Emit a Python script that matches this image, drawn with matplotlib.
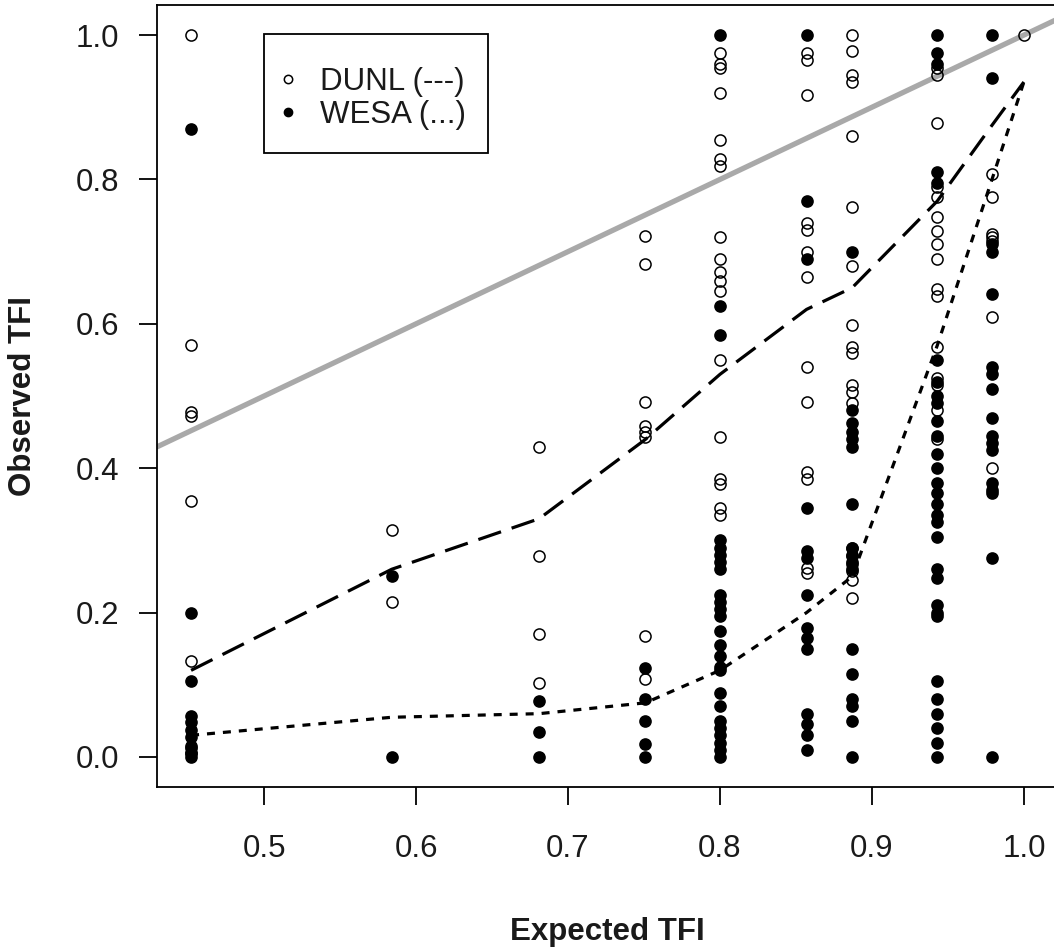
import matplotlib
matplotlib.use("Agg")
import matplotlib.pyplot as plt
from matplotlib.lines import Line2D
from matplotlib.patches import Rectangle
import numpy as np

plt.rcParams['font.family'] = ['Liberation Sans', 'DejaVu Sans']

# expected TFI levels (x) and observed TFI per level
expected = [0.452, 0.584, 0.681, 0.751, 0.80, 0.857, 0.887, 0.943, 0.979, 1.0]

dunl_obs = [
    [1.0, 0.57, 0.478, 0.472, 0.355, 0.133, 0.012, 0.005],
    [0.315, 0.215],
    [0.43, 0.278, 0.17, 0.103],
    [0.722, 0.683, 0.492, 0.458, 0.45, 0.443, 0.168, 0.108],
    [0.975, 0.96, 0.955, 0.92, 0.855, 0.828, 0.818, 0.72, 0.69, 0.672, 0.66,
     0.645, 0.55, 0.443, 0.385, 0.378, 0.345, 0.335],
    [0.975, 0.965, 0.917, 0.74, 0.73, 0.70, 0.665, 0.54, 0.492, 0.395, 0.385,
     0.262, 0.255],
    [1.0, 0.978, 0.945, 0.935, 0.86, 0.762, 0.68, 0.598, 0.568, 0.56, 0.515,
     0.505, 0.49, 0.29, 0.278, 0.268, 0.258, 0.245, 0.22],
    [0.955, 0.945, 0.878, 0.79, 0.775, 0.748, 0.728, 0.71, 0.69, 0.648, 0.638,
     0.568, 0.525, 0.515, 0.48, 0.44],
    [0.808, 0.775, 0.725, 0.72, 0.715, 0.61, 0.40],
    [1.0],
]

wesa_obs = [
    [0.87, 0.2, 0.105, 0.057, 0.048, 0.038, 0.028, 0.015, 0.005, 0.0],
    [0.25, 0.0],
    [0.078, 0.035, 0.0],
    [0.123, 0.08, 0.05, 0.018, 0.0],
    [1.0, 0.625, 0.585, 0.30, 0.29, 0.28, 0.27, 0.26, 0.225, 0.215, 0.205,
     0.195, 0.175, 0.155, 0.14, 0.125, 0.12, 0.088, 0.07, 0.05, 0.04, 0.03,
     0.02, 0.01, 0.0],
    [1.0, 0.77, 0.69, 0.345, 0.285, 0.275, 0.225, 0.178, 0.165, 0.15, 0.06,
     0.045, 0.03, 0.01],
    [0.70, 0.48, 0.462, 0.45, 0.44, 0.43, 0.35, 0.29, 0.28, 0.27, 0.26, 0.15,
     0.115, 0.08, 0.07, 0.05, 0.0],
    [1.0, 0.975, 0.96, 0.81, 0.795, 0.55, 0.52, 0.50, 0.49, 0.465, 0.445,
     0.42, 0.40, 0.38, 0.365, 0.35, 0.335, 0.325, 0.305, 0.26, 0.248, 0.21,
     0.2, 0.195, 0.105, 0.08, 0.06, 0.04, 0.02, 0.0],
    [1.0, 0.94, 0.71, 0.70, 0.642, 0.54, 0.53, 0.51, 0.47, 0.445, 0.435,
     0.425, 0.38, 0.37, 0.365, 0.275, 0.0],
    [],
]

dunl_trend = [0.12, 0.26, 0.33, 0.44, 0.53, 0.62, 0.65, 0.77, 0.875, 0.935]
wesa_trend = [0.03, 0.055, 0.06, 0.075, 0.12, 0.20, 0.25, 0.57, 0.80, 0.935]

ticks_x = [0.5, 0.6, 0.7, 0.8, 0.9, 1.0]
ticks_y = [0.0, 0.2, 0.4, 0.6, 0.8, 1.0]

FS = 22.5
W, H = 1054, 949


def flatten(levels, obs):
    xs = np.concatenate([[x] * len(o) for x, o in zip(levels, obs)])
    ys = np.concatenate([o for o in obs])
    return xs, ys


fig = plt.figure(figsize=(W / 100, H / 100), dpi=100)
ax = fig.add_axes([0.149, 0.1707, 0.854, 0.824])

# 1:1 line
ax.plot([0.3, 1.1], [0.3, 1.1], color='#a9a9a9', lw=3.8, zorder=1)

dx, dy = flatten(expected, dunl_obs)
wx, wy = flatten(expected, wesa_obs)
ax.plot(dx, dy, 'o', ms=8, mfc='none', mec='black', mew=1.1, zorder=3)
ax.plot(wx, wy, 'o', ms=8, mfc='black', mec='black', mew=1.1, zorder=3)

ax.plot(expected, dunl_trend, color='black', lw=2.3, dashes=(7.5, 3.5), zorder=2)
ax.plot(expected, wesa_trend, color='black', lw=2.3, dashes=(2.5, 2.5), zorder=2)

ax.set_xlim(0.4296, 1.0219)
ax.set_ylim(-0.0416, 1.0416)
ax.set_xticks(ticks_x)
ax.set_yticks(ticks_y)
ax.set_xticklabels([f"{t:.1f}" for t in ticks_x])
ax.set_yticklabels([f"{t:.1f}" for t in ticks_y])
ax.tick_params(axis='both', direction='out', length=13, width=1.3,
               labelsize=FS, colors='black', labelcolor='#1a1a1a')
ax.tick_params(axis='x', pad=21)
ax.tick_params(axis='y', pad=14)
for s in ax.spines.values():
    s.set_linewidth(1.3)

ax.set_xlabel('Expected TFI', fontsize=FS, fontweight='bold', labelpad=38,
              color='#1a1a1a')
ax.set_ylabel('Observed TFI', fontsize=FS, fontweight='bold', labelpad=27,
              color='#1a1a1a')

# legend: frameless entries plus a plain box around them
handles = [
    Line2D([], [], ls='none', marker='o', ms=6, mfc='none', mec='black', mew=1.1),
    Line2D([], [], ls='none', marker='o', ms=6, mfc='black', mec='black'),
]
leg = fig.legend(handles, ['DUNL (---)', 'WESA (...)'],
                 loc='upper left', bbox_to_anchor=(279 / W, 1 - 67 / H),
                 fontsize=FS, frameon=False, borderpad=0,
                 handlelength=0.6, handletextpad=0.7, labelspacing=0.1,
                 borderaxespad=0)
for t in leg.get_texts():
    t.set_color('#1a1a1a')
fig.patches.append(Rectangle((264 / W, 1 - 153 / H), 224 / W, 119 / H,
                             transform=fig.transFigure, fill=False,
                             edgecolor='black', lw=1.3, zorder=5))

fig.savefig('out.png', dpi=100)
